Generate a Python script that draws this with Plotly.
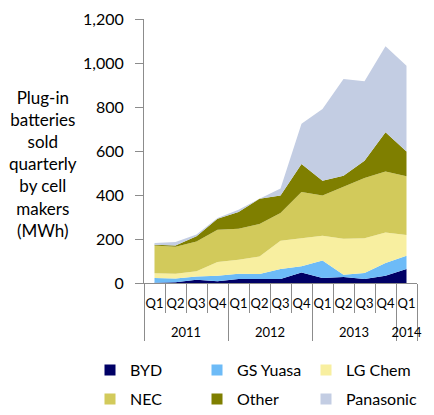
import plotly.graph_objects as go

years = ["2011"] * 4 + ["2012"] * 4 + ["2013"] * 4 + ["2014"]
quarters = ["Q1", "Q2", "Q3", "Q4"] * 3 + ["Q1"]
year_labels = ["2011", "2012", "2013", "2014"]

byd = [1, 3, 15, 8, 18, 18, 18, 48, 23, 27, 18, 33, 64]
gs_yuasa = [22, 17, 15, 25, 24, 23, 46, 28, 79, 11, 27, 58, 60]
lg_chem = [21, 22, 23, 62, 64, 80, 128, 129, 113, 163, 158, 139, 94]
nec = [127, 123, 136, 147, 141, 147, 126, 209, 183, 238, 274, 277, 267]
other = [3, 5, 23, 50, 76, 115, 80, 127, 67, 49, 79, 178, 113]
panasonic = [8, 16, 8, 3, 10, 0, 31, 183, 326, 439, 361, 391, 390]

names = ["BYD", "GS Yuasa", "LG Chem", "NEC", "Other", "Panasonic"]
values = [byd, gs_yuasa, lg_chem, nec, other, panasonic]
colors = ["#000066", "#6DBBF7", "#F8EFA0", "#D2CA5B", "#7F7F00", "#C3CDE3"]

font = "Lato, 'Open Sans', sans-serif"
pw = 273.0
ph = 263.5


def px_x(p):
    return (p - 144) / pw


def px_y(p):
    return (283 - p) / ph


keys = [f"{y} {q}" for y, q in zip(years, quarters)]
n = len(keys)

# year group boundaries and centres derived from the category list
bounds = [-0.5]
centres = []
start = 0
for i in range(1, n + 1):
    if i == n or years[i] != years[i - 1]:
        bounds.append(i - 0.5)
        centres.append((start + i - 1) / 2)
        start = i

fig = go.Figure()
for name, vals, col in zip(names, values, colors):
    fig.add_trace(go.Scatter(
        x=keys, y=vals, name=name, showlegend=False,
        stackgroup="one", mode="lines", line=dict(width=0, color=col),
        fillcolor=col,
    ))

text_x = [132, 239, 348]
row_y = [370, 399]
legend_axes = ["x2", "x3", "x2", "x3", "x2", "x3"]
legends = {}
for i, (name, col) in enumerate(zip(names, colors)):
    key = "legend" if i == 0 else f"legend{i + 1}"
    fig.add_trace(go.Scatter(
        x=[None], y=[None], name=name, mode="markers", legend=key,
        xaxis=legend_axes[i], yaxis="y",
        marker=dict(symbol="square", size=11, color=col),
        showlegend=True, hoverinfo="skip",
    ))
    legends[key] = dict(
        x=px_x(text_x[i % 3] - 42), y=px_y(row_y[i // 3]),
        xanchor="left", yanchor="middle", orientation="h",
        font=dict(size=16, family=font, color="#000000"),
        bgcolor="rgba(0,0,0,0)",
    )

grey = "#8c8c8c"
fig.update_layout(
    width=434, height=415,
    margin=dict(l=144, r=17, t=19, b=132, autoexpand=False),
    paper_bgcolor="white", plot_bgcolor="white",
    font=dict(family=font, size=14, color="#000000"),
    showlegend=True,
    xaxis=dict(
        type="category", range=[-0.5, n - 0.5], automargin=False,
        tickvals=keys, ticktext=quarters,
        showline=True, linecolor=grey, linewidth=1, tickangle=0,
        ticks="outside", tickson="boundaries", ticklen=29, tickcolor=grey,
        tickfont=dict(size=13), showgrid=False, ticklabelstandoff=8,
    ),
    xaxis2=dict(
        overlaying="x", anchor="y", side="bottom", type="linear",
        range=[-0.5, n - 0.5], automargin=False,
        tickvals=bounds, ticktext=[""] * len(bounds),
        ticks="outside", ticklen=57, tickcolor=grey, tickwidth=1,
        showline=False, showgrid=False, zeroline=False,
    ),
    xaxis3=dict(
        overlaying="x", anchor="y", side="bottom", type="linear",
        range=[-0.5, n - 0.5], automargin=False,
        tickvals=centres, ticktext=year_labels, tickangle=0,
        ticks="", showline=False, showgrid=False, zeroline=False,
        tickfont=dict(size=13), ticklabelstandoff=40,
    ),
    yaxis=dict(
        range=[0, 1200], dtick=200, tickformat=",", automargin=False,
        showline=True, linecolor=grey, linewidth=1,
        ticks="outside", ticklen=8, tickcolor=grey,
        showgrid=False, zeroline=False, tickfont=dict(size=16),
        ticklabelstandoff=8,
    ),
    annotations=[dict(
        text="Plug-in<br>batteries<br>sold<br>quarterly<br>by cell<br>makers<br>(MWh)",
        xref="paper", yref="paper", x=px_x(43), y=px_y(164),
        xanchor="center", yanchor="middle", showarrow=False, align="center",
        font=dict(size=17, family=font, color="#000000"),
    )],
    **legends,
)

fig.write_html("out.html", config={"displayModeBar": False},
               post_script="document.body.style.margin='0';")
